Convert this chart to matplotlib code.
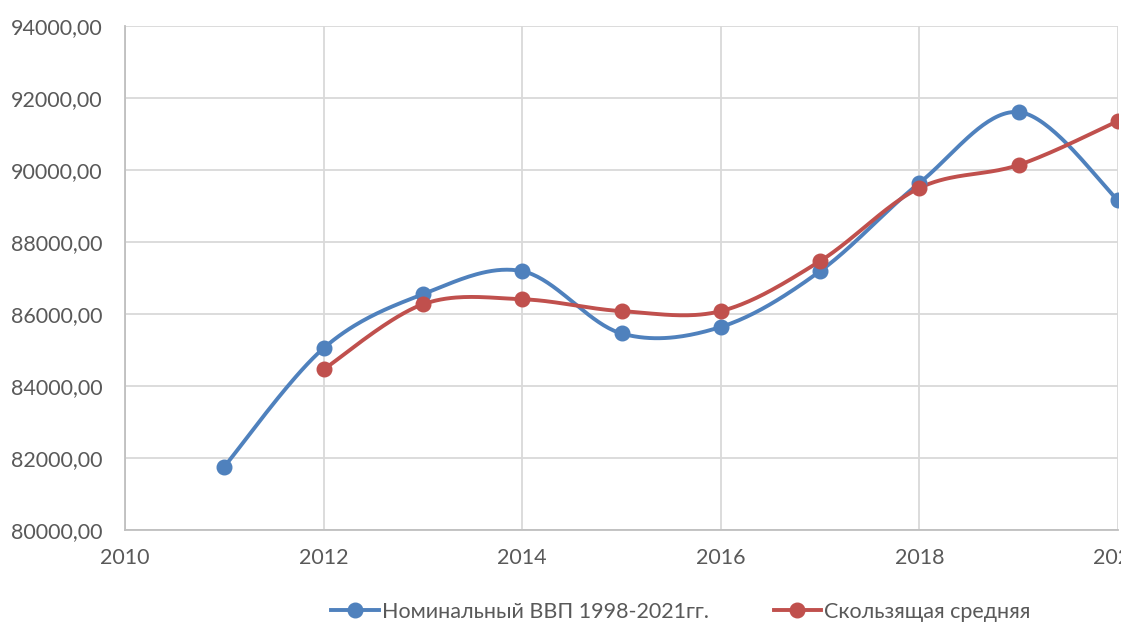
import numpy as np
import matplotlib
matplotlib.use("Agg")
import matplotlib.pyplot as plt
from matplotlib.ticker import FuncFormatter, MultipleLocator

years_gdp = [2011, 2012, 2013, 2014, 2015, 2016, 2017, 2018, 2019, 2020]
gdp = [81760, 85050, 86550, 87190, 85460, 85640, 87190, 89640, 91610, 89160]
years_ma = [2012, 2013, 2014, 2015, 2016, 2017, 2018, 2019, 2020]
moving_avg = [84460, 86270, 86410, 86080, 86080, 87470, 89500, 90140, 91360]
label_gdp = "Номинальный ВВП 1998-2021гг."
label_ma = "Скользящая средняя"

BLUE = "#4F81BD"
RED = "#C0504D"
TXT = "#595959"
GRID = "#D9D9D9"

plt.rcParams['font.family'] = ['Lato', 'DejaVu Sans']


def smooth(x, y, n=40):
    x = np.asarray(x, float)
    y = np.asarray(y, float)
    P = np.column_stack([x, y])
    out = []
    for i in range(len(P) - 1):
        p0 = P[i - 1] if i > 0 else P[i]
        p1 = P[i]
        p2 = P[i + 1]
        p3 = P[i + 2] if i + 2 < len(P) else P[i + 1]
        c1 = p1 + (p2 - p0) / 6.0
        c2 = p2 - (p3 - p1) / 6.0
        t = np.linspace(0, 1, n)[:, None]
        seg = ((1 - t) ** 3) * p1 + 3 * ((1 - t) ** 2) * t * c1 + 3 * (1 - t) * t ** 2 * c2 + t ** 3 * p2
        out.append(seg if i == 0 else seg[1:])
    s = np.vstack(out)
    return s[:, 0], s[:, 1]


fig = plt.figure(figsize=(11.21, 6.23), dpi=100)
ax = fig.add_axes([125 / 1121, 93 / 623, 993 / 1121, 504 / 623])

for xs, ys, c, lab in [(years_gdp, gdp, BLUE, label_gdp), (years_ma, moving_avg, RED, label_ma)]:
    sx, sy = smooth(xs, ys)
    ax.plot(sx, sy, color=c, lw=2.8, solid_capstyle='round', zorder=3)
    ax.plot(xs, ys, 'o', color=c, ms=10.5, zorder=4)
    ax.plot([], [], '-o', color=c, lw=2.8, ms=10.5, label=lab)

ax.set_xlim(2010, 2020)
ax.set_ylim(80000, 94000)
ax.xaxis.set_major_locator(MultipleLocator(2))
ax.yaxis.set_major_locator(MultipleLocator(2000))
ax.yaxis.set_major_formatter(FuncFormatter(lambda v, p: f"{v:.2f}".replace('.', ',')))
ax.grid(True, color=GRID, lw=1.3)
ax.set_axisbelow(True)
for s in ['top', 'right']:
    ax.spines[s].set_visible(False)
for s in ['left', 'bottom']:
    ax.spines[s].set_color('#BFBFBF')
    ax.spines[s].set_linewidth(1.3)
ax.tick_params(axis='both', length=0, colors=TXT, labelsize=15.5)
ax.tick_params(axis='y', pad=16)
ax.tick_params(axis='x', pad=13)

handles, labels = ax.get_legend_handles_labels()
fig.legend(handles, labels, loc='center', bbox_to_anchor=(681 / 1121, 1 - 612 / 623),
           ncol=2, frameon=False, fontsize=15.5, labelcolor=TXT, handlelength=2.2,
           columnspacing=3.0, handletextpad=0.15)

fig.savefig("out.png", dpi=100)
